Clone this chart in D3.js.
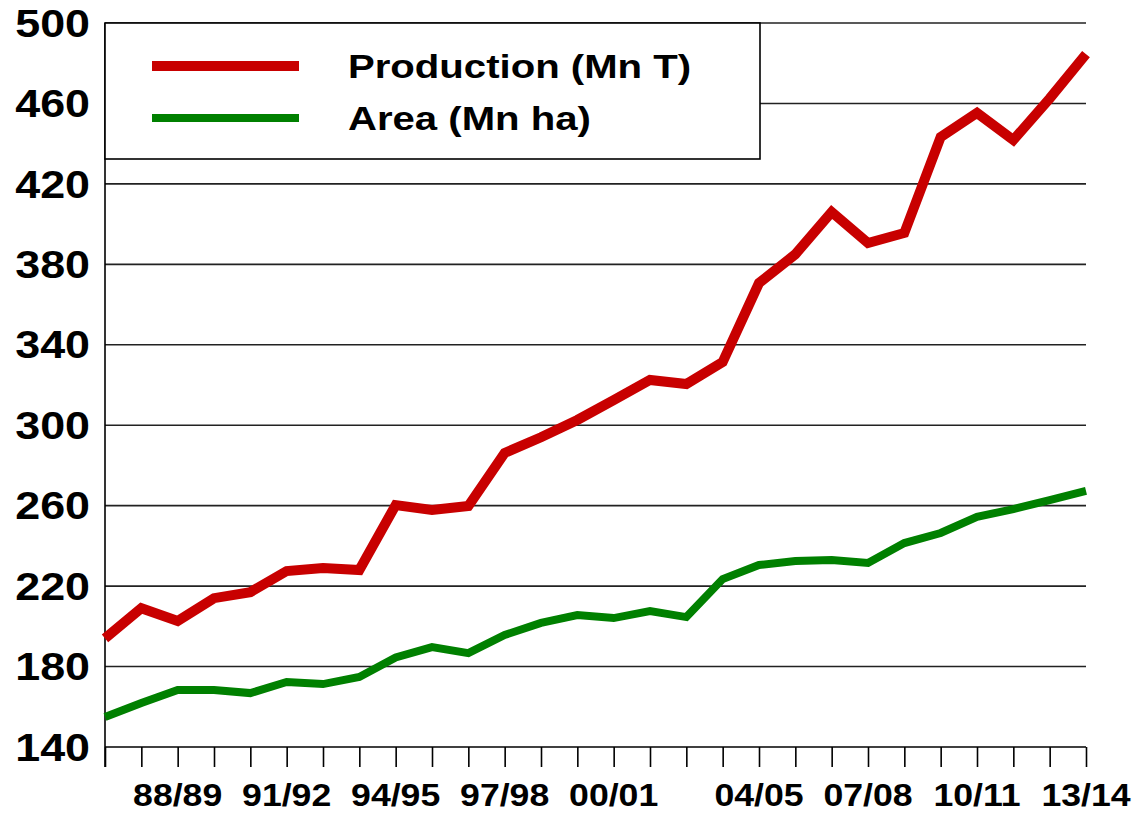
<!DOCTYPE html>
<html><head><meta charset="utf-8">
<script src="https://cdn.jsdelivr.net/npm/d3@7"></script>
<style>body{margin:0;background:#fff}svg{display:block}text{font-family:"Liberation Sans",Arial,sans-serif;font-weight:bold;fill:#000}</style>
</head><body>
<svg id="c" width="1141" height="813"></svg>
<script>
const categories = ["86/87","87/88","88/89","89/90","90/91","91/92","92/93","93/94","94/95","95/96","96/97","97/98","98/99","99/00","00/01","01/02","02/03","03/04","04/05","05/06","06/07","07/08","08/09","09/10","10/11","11/12","12/13","13/14"];
const production = [194,209,202.7,214,217,227.5,229,228,260.3,257.9,259.8,286.2,294,302.6,312.5,322.5,320.5,331.4,370.7,385,406,390.6,395.6,443.3,455.3,441.8,462.5,484.5];
const area = [154.9,161.9,168.3,168.3,166.8,172.3,171.3,174.8,184.5,189.7,186.7,195.7,201.7,205.6,204.1,207.6,204.6,223.5,230.5,232.5,233,231.5,241.4,246.4,254.4,258.3,262.8,267.3];
const shownLabels = ["88/89","91/92","94/95","97/98","00/01","04/05","07/08","10/11","13/14"];
const yTicks = [140,180,220,260,300,340,380,420,460,500];
const seriesNames = ["Production (Mn T)","Area (Mn ha)"];

(function(){
const svg = d3.select("#c");
const mL = 105, mR = 1086, mT = 23, mB = 747;
const sx = 1.18;
const x = d3.scalePoint().domain(categories).range([mL, mR]);
const y = d3.scaleLinear().domain([140, 500]).range([mB, mT]);

// gridlines
svg.append("g").selectAll("line").data(yTicks.slice(1)).join("line")
  .attr("x1", mL).attr("x2", mR)
  .attr("y1", d => y(d)).attr("y2", d => y(d))
  .attr("stroke", "#222").attr("stroke-width", 1.6);

// x axis with ticks
const xAxis = d3.axisBottom(x).tickSize(20).tickFormat("");
const gx = svg.append("g").attr("transform", `translate(0,${mB})`).call(xAxis);
gx.select(".domain").attr("stroke", "#000").attr("stroke-width", 1.6).attr("d", `M${mL},0H${mR}`);
gx.selectAll(".tick line").attr("stroke", "#000").attr("stroke-width", 1.6);

// y axis line
svg.append("line").attr("x1", mL).attr("x2", mL).attr("y1", mT).attr("y2", mB + 20)
  .attr("stroke", "#000").attr("stroke-width", 1.6);

// y labels
svg.append("g").selectAll("text").data(yTicks).join("text")
  .attr("transform", d => `translate(90,${y(d)}) scale(${sx},1)`)
  .attr("text-anchor", "end").attr("dy", "0.36em")
  .style("font-size", "38px").text(d => d);

// x labels
svg.append("g").selectAll("text").data(shownLabels).join("text")
  .attr("transform", d => `translate(${x(d)},806) scale(1.15,1)`)
  .attr("text-anchor", "middle")
  .style("font-size", "31px").text(d => d);

// lines
const line = d3.line().x((d, i) => x(categories[i])).y(d => y(d));
svg.append("path").datum(area).attr("d", line).attr("fill", "none")
  .attr("stroke", "#008000").attr("stroke-width", 8).attr("stroke-linejoin", "miter");
svg.append("path").datum(production).attr("d", line).attr("fill", "none")
  .attr("stroke", "#C80000").attr("stroke-width", 10).attr("stroke-linejoin", "miter");

// legend
const lg = svg.append("g");
lg.append("rect").attr("x", mL).attr("y", mT).attr("width", 760 - mL).attr("height", 159 - mT)
  .attr("fill", "#fff").attr("stroke", "#000").attr("stroke-width", 1.6);
const legendItems = [
  {name: seriesNames[0], color: "#C80000", w: 10, ly: 66},
  {name: seriesNames[1], color: "#008000", w: 8, ly: 118}
];
legendItems.forEach(it => {
  lg.append("line").attr("x1", 152).attr("x2", 299).attr("y1", it.ly).attr("y2", it.ly)
    .attr("stroke", it.color).attr("stroke-width", it.w);
  lg.append("text").attr("transform", `translate(348,${it.ly + 12}) scale(${sx},1)`)
    .style("font-size", "34px").text(it.name);
});
})();
</script>
</body></html>
